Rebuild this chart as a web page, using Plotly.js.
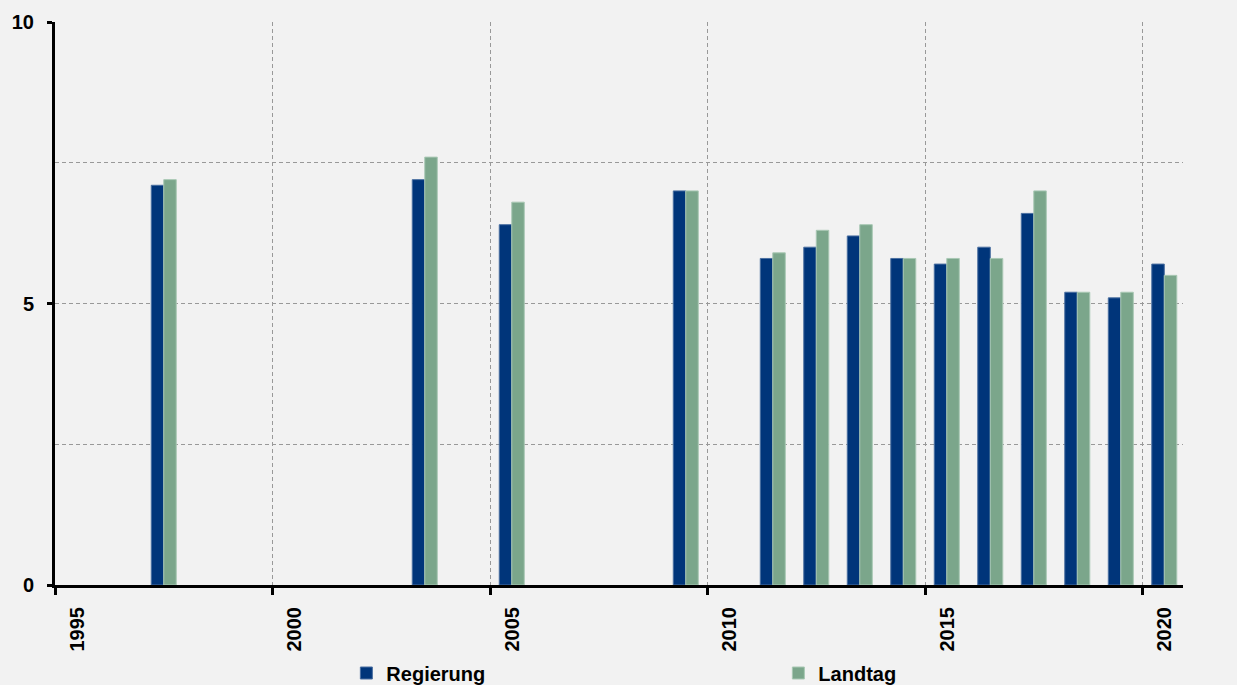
<!DOCTYPE html>
<html>
<head>
<meta charset="utf-8">
<script src="https://cdn.plot.ly/plotly-3.0.1.min.js"></script>
<style>html,body{margin:0;padding:0;background:#f2f2f2;}#chart{width:1237px;height:685px;}</style>
</head>
<body>
<div id="chart"></div>
<script>
const years = [1997, 2003, 2005, 2009, 2011, 2012, 2013, 2014, 2015, 2016, 2017, 2018, 2019, 2020];
const regierung = [7.1, 7.2, 6.4, 7.0, 5.8, 6.0, 6.2, 5.8, 5.7, 6.0, 6.6, 5.2, 5.1, 5.7];
const landtag   = [7.2, 7.6, 6.8, 7.0, 5.9, 6.3, 6.4, 5.8, 5.8, 5.8, 7.0, 5.2, 5.2, 5.5];
const xTicks = [1995, 2000, 2005, 2010, 2015, 2020];
const yTicks = [0, 5, 10];
const seriesNames = ['Regierung', 'Landtag'];

const xMid = years.map(y => y + 0.5);
const fam = 'Liberation Sans, Arial, sans-serif';
const tickFont = {family: fam, size: 20, color: '#000', weight: 'bold'};
const gridDash = '4px,3px';

const traces = [
  {type: 'bar', name: seriesNames[0], x: xMid, y: regierung,
   marker: {color: '#00357a', line: {color: '#4a6fa0', width: 1}}, hoverinfo: 'x+y'},
  {type: 'bar', name: seriesNames[1], x: xMid, y: landtag,
   marker: {color: '#7ba68b', line: {color: '#a9c8b4', width: 1}}, hoverinfo: 'x+y'}
];

const layout = {
  width: 1237, height: 685,
  paper_bgcolor: '#f2f2f2', plot_bgcolor: '#f2f2f2',
  margin: {l: 55, r: 54, t: 22, b: 100, autoexpand: false},
  font: {family: fam, size: 16, color: '#000'},
  barmode: 'group', bargap: 0.425, bargroupgap: 0,
  showlegend: true,
  legend: {orientation: 'h', xref: 'container', yref: 'container',
           x: 0.280, xanchor: 'left', y: 0.0175, yanchor: 'middle',
           entrywidth: 387, entrywidthmode: 'pixels', itemwidth: 30,
           font: {family: fam, size: 20, color: '#000', weight: 'bold'}, bgcolor: 'rgba(0,0,0,0)'},
  xaxis: {
    type: 'linear', range: [1995, 2020.93],
    tickvals: xTicks, ticktext: xTicks.map(String),
    tickangle: -90, ticklabelshift: 22, ticklabelstandoff: 4,
    ticks: 'outside', ticklen: 7, tickwidth: 3, tickcolor: '#000',
    showline: true, linecolor: '#000', linewidth: 3,
    showgrid: true, gridcolor: '#999', griddash: gridDash, gridwidth: 1,
    zeroline: false, tickfont: tickFont
  },
  yaxis: {
    range: [0, 10], tickvals: yTicks, ticktext: yTicks.map(String),
    ticks: 'outside', ticklen: 5, tickwidth: 3, tickcolor: '#000',
    ticklabelstandoff: 9,
    showline: true, linecolor: '#000', linewidth: 3,
    showgrid: true, gridcolor: '#999', griddash: gridDash, gridwidth: 1,
    minor: {dtick: 2.5, showgrid: true, gridcolor: '#999', griddash: gridDash, gridwidth: 1, ticks: ''},
    zeroline: false, tickfont: tickFont
  },
  yaxis2: {
    overlaying: 'y', side: 'right', anchor: 'x',
    range: [0, 10], tickvals: yTicks, ticktext: yTicks.map(String),
    ticks: 'outside', ticklen: 5, tickwidth: 3, tickcolor: '#000',
    ticklabelstandoff: 16,
    showline: true, linecolor: '#000', linewidth: 3,
    showgrid: false, zeroline: false, tickfont: tickFont
  }
};

Plotly.newPlot('chart', traces, layout, {displayModeBar: false, staticPlot: true});
</script>
</body>
</html>
